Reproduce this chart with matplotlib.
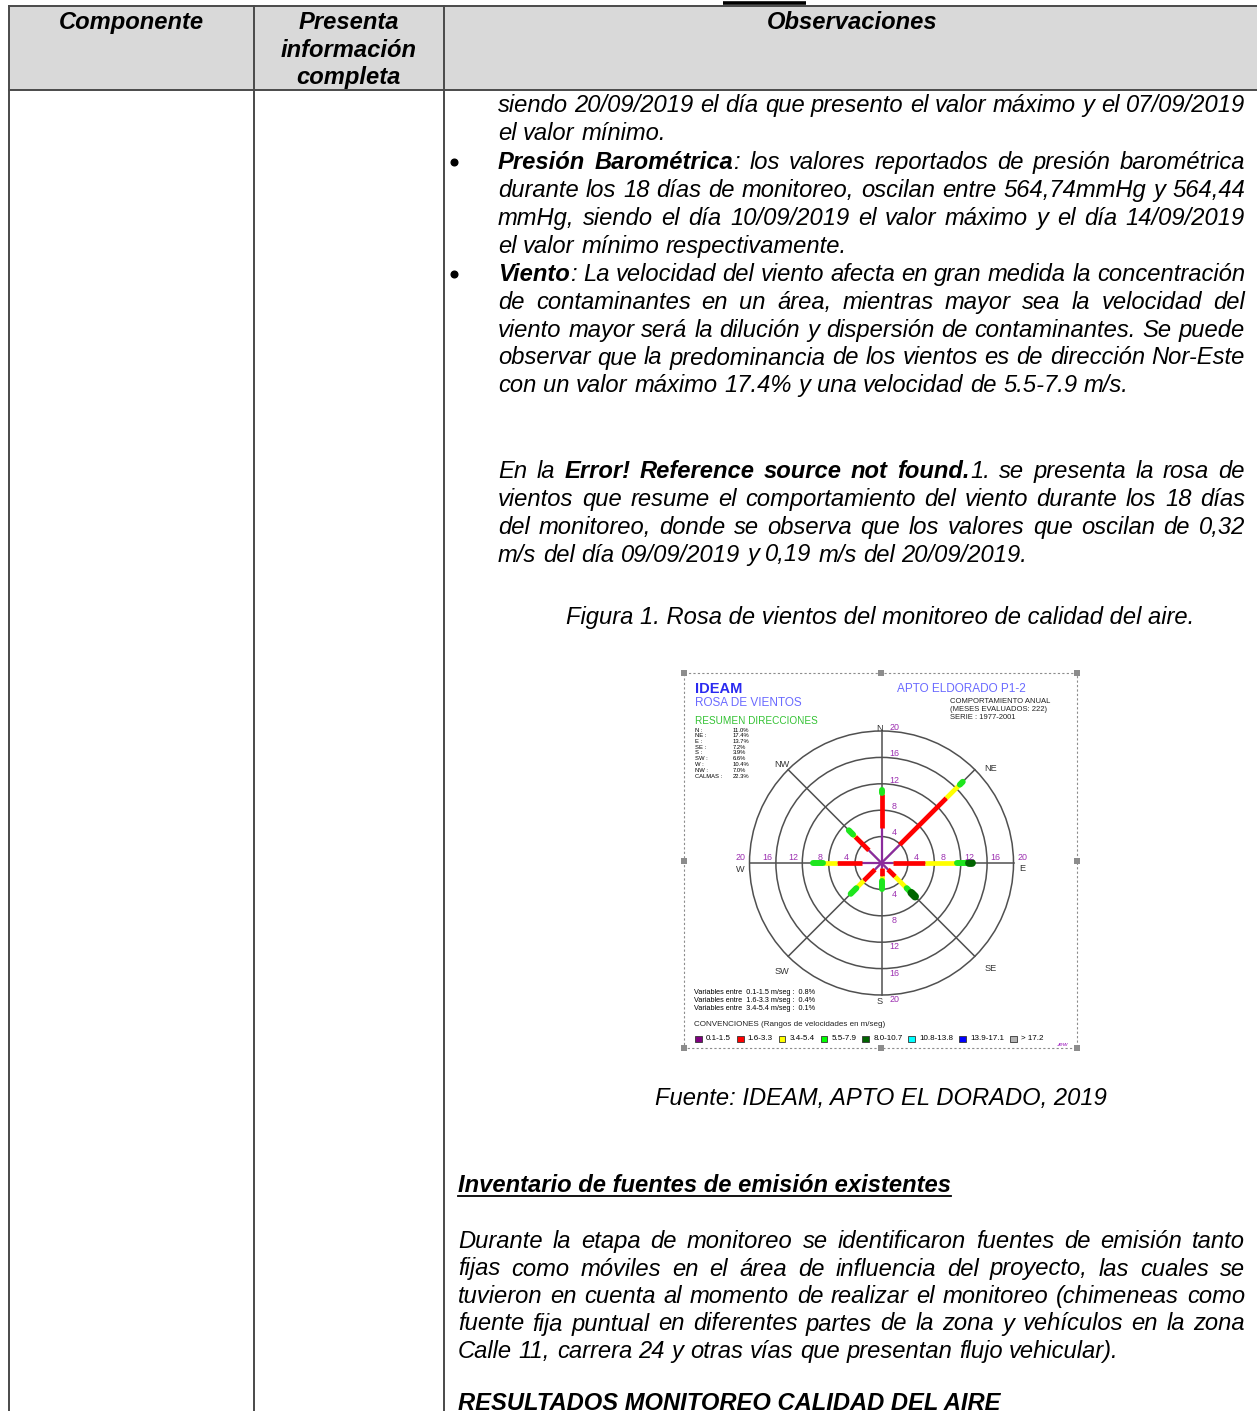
import matplotlib
matplotlib.use('Agg')
import matplotlib.pyplot as plt
from matplotlib.patches import Rectangle, Circle
import numpy as np

W, H = 1257, 1411
FONT = 'Liberation Sans'
FS = 17.1  # tamaño del texto del documento (pt)

# ---- datos de la rosa de vientos (% de frecuencia por dirección y rango) ----
directions = ['N', 'NE', 'E', 'SE', 'S', 'SW', 'W', 'NW']
dir_angles = [90, 45, 0, -45, -90, -135, 180, 135]
speed_classes = ['0.1-1.5', '1.6-3.3', '3.4-5.4', '5.5-7.9', '8.0-10.7',
                 '10.8-13.8', '13.9-17.1', '> 17.2']
legend_colors = ['#800080', '#ff0000', '#ffff00', '#00ff00', '#006400',
                 '#00ffff', '#0000ff', '#b4b4b4']
freq_01_15 = [5.3, 3.9, 1.8, 1.4, 0.8, 1.4, 3.0, 2.7]
freq_16_33 = [5.1, 10.0, 4.8, 1.5, 1.2, 2.4, 3.8, 2.9]
freq_34_54 = [0.2, 2.9, 4.8, 2.5, 0.8, 1.6, 2.0, 0.5]
freq_55_79 = [0.4, 0.6, 1.8, 1.0, 1.1, 1.2, 1.6, 0.9]
freq_80_107 = [0.0, 0.0, 0.5, 0.8, 0.0, 0.0, 0.0, 0.0]
summary_pct = [11.0, 17.4, 13.7, 7.2, 3.9, 6.6, 10.4, 7.0]
calmas_pct = 22.3
variables_rango = ['0.1-1.5', '1.6-3.3', '3.4-5.4']
variables_pct = [0.8, 0.4, 0.1]
ring_values = [4, 8, 12, 16, 20]

# ---- texto del documento ----
header_cols = ['Componente', 'Presenta\ninformación\ncompleta', 'Observaciones']
block_a = [
    ("siendo 20/09/2019 el día que presento el valor máximo y el 07/09/2019", True),
    ("el valor mínimo.", False),
    ("**Presión Barométrica**: los valores reportados de presión barométrica", True),
    ("durante los 18 días de monitoreo, oscilan entre 564,74mmHg y 564,44", True),
    ("mmHg, siendo el día 10/09/2019 el valor máximo y el día 14/09/2019", True),
    ("el valor mínimo respectivamente.", False),
    ("**Viento**: La velocidad del viento afecta en gran medida la concentración", True),
    ("de contaminantes en un área, mientras mayor sea la velocidad del", True),
    ("viento mayor será la dilución y dispersión de contaminantes. Se puede", True),
    ("observar que la predominancia de los vientos es de dirección Nor-Este", True),
    ("con un valor máximo 17.4% y una velocidad de 5.5-7.9 m/s.", False),
]
block_b = [
    ("En la **Error! Reference source not found.**1. se presenta la rosa de", True),
    ("vientos que resume el comportamiento del viento durante los 18 días", True),
    ("del monitoreo, donde se observa que los valores que oscilan de 0,32", True),
    ("m/s del día 09/09/2019 y 0,19 m/s del 20/09/2019.", False),
]
block_c = [
    ("Durante la etapa de monitoreo se identificaron fuentes de emisión tanto", True),
    ("fijas como móviles en el área de influencia del proyecto, las cuales se", True),
    ("tuvieron en cuenta al momento de realizar el monitoreo (chimeneas como", True),
    ("fuente fija puntual en diferentes partes de la zona y vehículos en la zona", True),
    ("Calle 11, carrera 24 y otras vías que presentan flujo vehicular).", False),
]
caption = "Figura 1. Rosa de vientos del monitoreo de calidad del aire."
fuente = "Fuente: IDEAM, APTO EL DORADO, 2019"
heading1 = "Inventario de fuentes de emisión existentes"
heading2 = "RESULTADOS MONITOREO CALIDAD DEL AIRE"

fig = plt.figure(figsize=(W / 100, H / 100), dpi=100)
ax = fig.add_axes([0, 0, 1, 1])
ax.set_xlim(0, W)
ax.set_ylim(H, 0)
ax.axis('off')
renderer = fig.canvas.get_renderer()

# ---- tabla ----
LC = '#4a4a4a'
ax.add_patch(Rectangle((8.5, 5.5), W - 8.5, 84.2, fc='#d9d9d9', ec='none', zorder=0))
ax.plot([8.5, W], [5.5, 5.5], color=LC, lw=1.4)
ax.plot([8.5, W], [89.7, 89.7], color=LC, lw=1.4)
for xc in [8.5, 253.5, 443.5]:
    ax.plot([xc, xc], [5.5, H], color=LC, lw=1.4)
ax.plot([723, 806], [2.5, 2.5], color='black', lw=2.6, solid_capstyle='butt')

hdr_x = [131, 348.5, 852]
for xc, txt in zip(hdr_x, header_cols):
    for j, ln in enumerate(txt.split('\n')):
        ax.text(xc, 29 + j * 27.6, ln, fontsize=FS, family=FONT, style='italic',
                weight='bold', ha='center', va='baseline')

_cache = {}


def measure(s, bold):
    key = (s, bold)
    if key not in _cache:
        t = ax.text(0, 0, s, fontsize=FS, family=FONT, style='italic',
                    weight='bold' if bold else 'normal')
        _cache[key] = t.get_window_extent(renderer).width
        t.remove()
    return _cache[key]


SPACE = measure('a a', False) - measure('aa', False)
RUN_GAP = 0.5


def tokens(markup):
    words = [[]]
    for i, part in enumerate(markup.split('**')):
        bold = i % 2 == 1
        for j, c in enumerate(part.split(' ')):
            if j > 0:
                words.append([])
            if c:
                words[-1].append((c, bold))
    return [w for w in words if w]


def draw_line(y, x0, markup, justify, x1=1245):
    words = tokens(markup)
    widths = [sum(measure(s, b) for s, b in w) + RUN_GAP * (len(w) - 1) for w in words]
    gap = SPACE
    if justify and len(words) > 1:
        gap = (x1 - x0 - sum(widths)) / (len(words) - 1)
    x = x0
    for w, wd in zip(words, widths):
        xx = x
        for s, b in w:
            ax.text(xx, y, s, fontsize=FS, family=FONT, style='italic',
                    weight='bold' if b else 'normal', ha='left', va='baseline')
            xx += measure(s, b) + RUN_GAP
        x += wd + gap


ya = [112, 140, 169, 197, 225, 253, 281, 309, 337, 364.5, 392]
for y, (txt, j) in zip(ya, block_a):
    draw_line(y, 498, txt, j)
for y in [169, 281]:
    ax.plot(454, y - 7.5, 'o', color='black', markersize=4.8)

yb = [478, 506, 534, 561.5]
for y, (txt, j) in zip(yb, block_b):
    draw_line(y, 498, txt, j)

ax.text(880.5, 624, caption, fontsize=FS, family=FONT, style='italic', ha='center', va='baseline')
ax.text(880.5, 1105, fuente, fontsize=FS, family=FONT, style='italic', ha='center', va='baseline')

for y, txt in [(1192.5, heading1), (1410.5, heading2)]:
    t = ax.text(458, y, txt, fontsize=FS, family=FONT, style='italic', weight='bold',
                ha='left', va='baseline')
    wd = t.get_window_extent(renderer).width
    ax.plot([458, 458 + wd], [y + 3, y + 3], color='black', lw=1.3)

yc = [1248, 1275.5, 1303, 1330.5, 1358]
for y, (txt, j) in zip(yc, block_c):
    draw_line(y, 458, txt, j)

# ---- imagen de la rosa de vientos ----
bx0, by0, bx1, by1 = 684, 673, 1077, 1048
ax.add_patch(Rectangle((bx0, by0), bx1 - bx0, by1 - by0, fill=False, ec='#8c8c8c',
                       lw=0.8, ls=(0, (2, 2)), zorder=3))
for hx in [bx0, (bx0 + bx1) / 2, bx1]:
    for hy in [by0, (by0 + by1) / 2, by1]:
        if hx == (bx0 + bx1) / 2 and hy == (by0 + by1) / 2:
            continue
        ax.add_patch(Rectangle((hx - 3, hy - 3), 6, 6, fc='#8c8c8c', ec='none', zorder=4))

ax.text(695, 689, 'IDEAM', fontsize=10.5, family=FONT, weight='bold', color='#2a2af0',
        ha='left', va='center')
ax.text(695, 702.5, 'ROSA DE VIENTOS', fontsize=8.5, family=FONT, color='#6a6aff',
        ha='left', va='center')
ax.text(695, 720.5, 'RESUMEN DIRECCIONES', fontsize=7.2, family=FONT, color='#33c233',
        ha='left', va='center')
ax.text(897, 688.5, 'APTO ELDORADO P1-2', fontsize=8.5, family=FONT, color='#6a6aff',
        ha='left', va='center')
for j, ln in enumerate(['COMPORTAMIENTO ANUAL', '(MESES EVALUADOS: 222)', 'SERIE : 1977-2001']):
    ax.text(950.5, 701.5 + j * 8, ln, fontsize=5.5, family=FONT, color='#222222',
            ha='left', va='center')

sum_labels = [d + ' :' for d in directions] + ['CALMAS :']
sum_values = summary_pct + [calmas_pct]
for j, (lab, val) in enumerate(zip(sum_labels, sum_values)):
    yy = 730 + j * 5.75
    ax.text(695, yy, lab, fontsize=4.2, family=FONT, ha='left', va='center')
    ax.text(733, yy, f'{val:.1f}%', fontsize=4.2, family=FONT, ha='left', va='center')

for j, (rg, pc) in enumerate(zip(variables_rango, variables_pct)):
    ax.text(694, 992.5 + j * 8, f'Variables entre  {rg} m/seg :  {pc:.1f}%', fontsize=5.2,
            family=FONT, ha='left', va='center')
ax.text(694, 1025, 'CONVENCIONES (Rangos de velocidades en m/seg)', fontsize=5.8,
        family=FONT, color='#222222', ha='left', va='center')
lx = 695
for lab, col in zip(speed_classes, legend_colors):
    ax.add_patch(Rectangle((lx, 1035.7), 6.7, 6.7, fc=col, ec='#333333', lw=0.6, zorder=4))
    t = ax.text(lx + 11, 1039, lab, fontsize=5.8, family=FONT, ha='left', va='center')
    lx = lx + 11 + t.get_window_extent(renderer).width + 5.8
ax.text(1063, 1044, 'ɹew', fontsize=4.5, family='DejaVu Sans', style='italic',
        color='#a020c0', ha='center', va='center')

# ejes de la rosa: 6.6 px por unidad, centro en (881.5, 863)
CX, CY, PX = 881.5, 863, 6.6
rax = fig.add_axes([bx0 / W, 1 - by1 / H, (bx1 - bx0) / W, (by1 - by0) / H])
rax.set_xlim((bx0 - CX) / PX, (bx1 - CX) / PX)
rax.set_ylim((CY - by1) / PX, (CY - by0) / PX)
rax.axis('off')
rax.patch.set_alpha(0)

ring_c = '#505050'
for r in ring_values:
    rax.add_patch(Circle((0, 0), r, fill=False, ec=ring_c, lw=1.1))
rmax = ring_values[-1]
for a in dir_angles:
    rax.plot([0, rmax * np.cos(np.radians(a))], [0, rmax * np.sin(np.radians(a))],
             color=ring_c, lw=1.1)

series = [freq_01_15, freq_16_33, freq_34_54, freq_55_79, freq_80_107]
seg_colors = ['#8b2c9c', '#ff0000', '#ffff00', '#1ee61e', '#006400']
seg_widths = [1.6, 3.4, 3.4, 4.3, 5.6]
seg_caps = ['butt', 'butt', 'butt', 'round', 'round']
for i, a in enumerate(dir_angles):
    ca, sa = np.cos(np.radians(a)), np.sin(np.radians(a))
    cum = 0.0
    for k, vals in enumerate(series):
        v = vals[i]
        if v <= 0:
            continue
        rax.plot([cum * ca, (cum + v) * ca], [cum * sa, (cum + v) * sa],
                 color=seg_colors[k], lw=seg_widths[k], solid_capstyle=seg_caps[k],
                 zorder=3 + k)
        cum += v

lab_c = '#9c2fb0'
for r in ring_values:
    kw = dict(fontsize=6.4, family=FONT, color=lab_c, ha='center', va='center', zorder=10)
    rax.text(1.95, r + 0.55, str(r), **kw)
    rax.text(1.95, -(r + 0.7), str(r), **kw)
    rax.text(r + 1.3, 0.8, str(r), **kw)
    rax.text(-(r + 1.3), 0.8, str(r), **kw)

dir_label_pos = [(-0.3, 20.45), (16.6, 14.3), (21.3, -0.9), (16.6, -16.0),
                 (-0.25, -21.0), (-15.1, -16.5), (-21.4, -0.95), (-15.1, 14.9)]
for d, (px, py) in zip(directions, dir_label_pos):
    rax.text(px, py, d, fontsize=6.6, family=FONT, color='#333333', ha='center',
             va='center')

fig.savefig('out.png', dpi=100)
